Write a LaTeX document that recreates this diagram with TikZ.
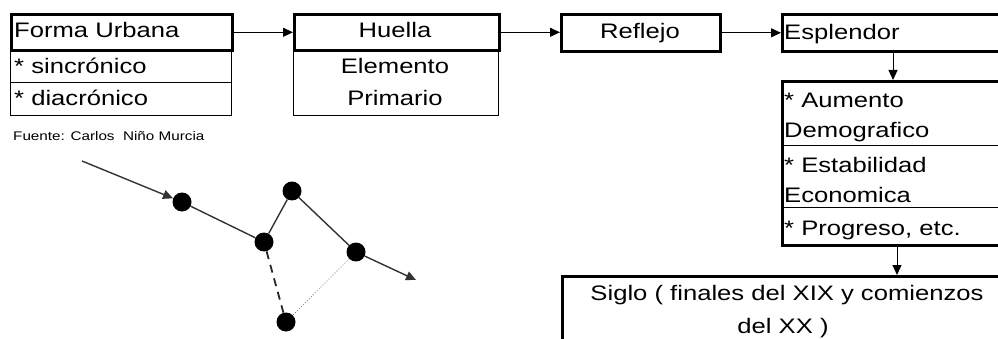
\documentclass[tikz,border=0pt]{standalone}
\usepackage{fontspec}
\setmainfont[FakeStretch=1.22]{Liberation Sans}
\usetikzlibrary{arrows.meta}
\tikzset{
  titlebox/.style={draw, line width=2.6pt, inner sep=0, anchor=north west},
  rowbox/.style={draw, line width=1pt, inner sep=0, anchor=north west},
  txt/.style={inner sep=0, anchor=base west, font=\fontsize{21}{25}\selectfont},
  ctxt/.style={inner sep=0, anchor=base, font=\fontsize{21}{25}\selectfont},
  arr/.style={-{Triangle[length=10pt,width=9pt]}, line width=1pt},
  dot/.style={circle, fill=black, minimum size=19pt, inner sep=0},
  netline/.style={line width=1.4pt, draw=black!80},
}
\begin{document}
\begin{tikzpicture}[x=1pt,y=-1pt]
\useasboundingbox (0,0) rectangle (998,339);
\clip (0,0) rectangle (998,339);
% Forma Urbana
\node[rowbox, minimum width=221pt, minimum height=33pt] (fu1) at (10,49) {};
\node[rowbox, minimum width=221pt, minimum height=33pt] (fu2) at (10,82) {};
\node[titlebox, minimum width=221pt, minimum height=36pt] (fu) at (10,13) {};
\node[txt] (fut) at (14,38) {Forma Urbana};
\node[txt] (fu1t) at (14,74) {* sincrónico};
\node[txt] (fu2t) at (14,106) {* diacrónico};
% Huella
\node[rowbox, minimum width=205pt, minimum height=66pt] (hu1) at (293,49) {};
\node[titlebox, minimum width=205pt, minimum height=36pt] (hu) at (293,13) {};
\node[ctxt] (hut) at (395,38) {Huella};
\node[ctxt] (hu1t) at (395,74) {Elemento};
\node[ctxt] (hu2t) at (395,106) {Primario};
% Reflejo
\node[titlebox, minimum width=159pt, minimum height=37pt] (re) at (560,13) {};
\node[ctxt] (ret) at (640,39) {Reflejo};
% Esplendor
\node[titlebox, minimum width=230pt, minimum height=37pt] (es) at (781,13) {};
\node[txt] (est) at (784,40) {Esplendor};
% Aumento box
\node[titlebox, minimum width=230pt, minimum height=164pt] (au) at (781,80) {};
\draw[line width=1pt] (781,146) -- (1010,146);
\draw[line width=1pt] (781,208) -- (1010,208);
\node[txt] (au1) at (784,108) {* Aumento};
\node[txt] (au2) at (784,138) {Demografico};
\node[txt] (au3) at (784,173) {* Estabilidad};
\node[txt] (au4) at (784,203) {Economica};
\node[txt] (au5) at (784,235) {* Progreso, etc.};
% Siglo box
\node[titlebox, minimum width=460pt, minimum height=80pt] (si) at (561,275) {};
\node[ctxt] (si1) at (787,300) {Siglo ( finales del XIX y comienzos};
\node[ctxt] (si2) at (783,333) {del XX )};
% connectors
\coordinate (ca) at (893,0);
\coordinate (cb) at (897,0);
\draw[arr] (fu.east) -- (fu.east -| hu.west);
\draw[arr] (hu.east) -- (hu.east -| re.west);
\draw[arr] (re.east) -- (re.east -| es.west);
\draw[arr] (es.south -| ca) -- (au.north -| ca);
\draw[arr] (au.south -| cb) -- (si.north -| cb);
% source
\node[inner sep=0, anchor=base west, font=\fontsize{12.5}{14}\selectfont] (src) at (13,141) {Fuente: Carlos~ Niño Murcia};
% network
\coordinate (n0) at (82,161);
\coordinate (n6) at (416,280);
\node[dot] (d1) at (182,202) {};
\node[dot] (d2) at (264,242) {};
\node[dot] (d3) at (292,191) {};
\node[dot] (d4) at (356,252) {};
\node[dot] (d5) at (286,322) {};
\draw[netline, -{Triangle[length=10pt,width=9pt]}] (n0) -- (d1);
\draw[netline] (d1) -- (d2);
\draw[netline] (d2) -- (d3);
\draw[netline] (d3) -- (d4);
\draw[netline, -{Triangle[length=10pt,width=9pt]}] (d4) -- (n6);
\draw[line width=1.8pt, draw=black!85, dash pattern=on 8pt off 6pt] (d2) -- (d5);
\draw[line width=0.8pt, draw=black!55, dotted] (d4) -- (d5);
\end{tikzpicture}
\end{document}
